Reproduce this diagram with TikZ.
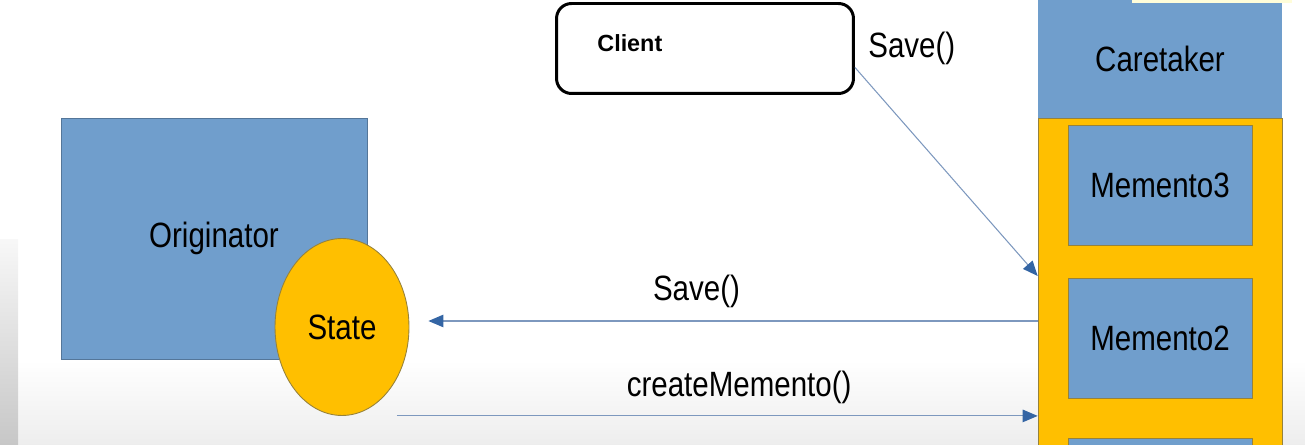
\documentclass[tikz,border=0pt]{standalone}
\usepackage{xcolor}
\usepackage{fontspec}
\setmainfont{Liberation Sans}
\newfontfamily\narrowsans[FakeStretch=0.84]{Liberation Sans}
\usepackage{tikz}
\usetikzlibrary{arrows.meta,shapes.geometric}

\definecolor{memoblue}{RGB}{112,158,204}
\definecolor{memoyellow}{RGB}{255,191,0}
\definecolor{memoedge}{RGB}{150,130,60}
\definecolor{msgline}{RGB}{125,152,190}
\definecolor{msgtip}{RGB}{52,101,164}

\begin{document}
\begin{tikzpicture}[
	x=0.02cm, y=-0.02cm,
	every node/.style={
		inner sep=0pt,
		font=\narrowsans\fontsize{20}{24}\selectfont
	},
	bluebox/.style={
		rectangle, fill=memoblue,
		draw=memoblue!75!black, line width=0.4pt
	},
	mementobox/.style={
		bluebox, draw=memoedge,
		minimum width=3.68cm, minimum height=2.4cm
	},
	statebubble/.style={
		ellipse, fill=memoyellow, draw=memoedge, line width=0.5pt,
		minimum width=2.68cm, minimum height=3.54cm
	},
	clientbox/.style={
		rectangle, rounded corners=0.3cm, fill=white,
		draw=black, line width=1.7pt,
		minimum width=5.94cm, minimum height=1.8cm
	},
	msg/.style={
		draw=msgline, line width=0.6pt,
		-{Triangle[length=0.3cm, width=0.25cm, color=msgtip]}
	}
]
\useasboundingbox (0,0) rectangle (1305,445);
\clip (0,0) rectangle (1305,445);

\shade[top color=white, bottom color=black!7] (0,360) rectangle (1305,445);
\shade[top color=black!3, bottom color=black!22] (0,240) rectangle (18,445);

\node[bluebox, minimum width=6.12cm, minimum height=4.82cm] (originator) at (214,238.5) {Originator};
\node[statebubble] (state) at (342,327) {State};

\node[clientbox, label={[font=\normalfont\bfseries\fontsize{13.3}{16}\selectfont, anchor=west, xshift=0.84cm, yshift=0.11cm]west:Client}] (client) at (705,48.5) {};
\node[anchor=west] (savetop) at ([xshift=0.26cm]client.east) {Save()};

\node[rectangle, fill=memoyellow, draw=memoedge, line width=0.4pt, minimum width=4.88cm, minimum height=6.84cm] (holder) at (1160,289) {};
\node[bluebox, draw=none, minimum width=4.88cm, minimum height=2.36cm] (caretaker) at (1160,59) {Caretaker};
\fill[yellow!15] (1132,0) rectangle (1292,3);

\node[mementobox] (memento3) at (1160,185) {Memento3};
\node[mementobox] (memento2) at (1160,338.5) {Memento2};
\node[mementobox] (memento1) at (1160,498) {};

\draw[msg] ([yshift=-0.38cm]client.east) -- ([yshift=0.26cm]holder.west);

\coordinate (savefrom) at ([yshift=-0.64cm]holder.west);
\coordinate (saveto) at ([xshift=0.38cm]state.east);
\draw[msg] (savefrom) -- (saveto |- savefrom)
	node[pos=0.56, yshift=0.6cm] (savelabel) {Save()};

\coordinate (createfrom) at ([xshift=1.1cm]state.south);
\draw[msg] (createfrom) -- (holder.west |- createfrom)
	node[pos=0.534, yshift=0.58cm] (createlabel) {createMemento()};
\end{tikzpicture}
\end{document}
